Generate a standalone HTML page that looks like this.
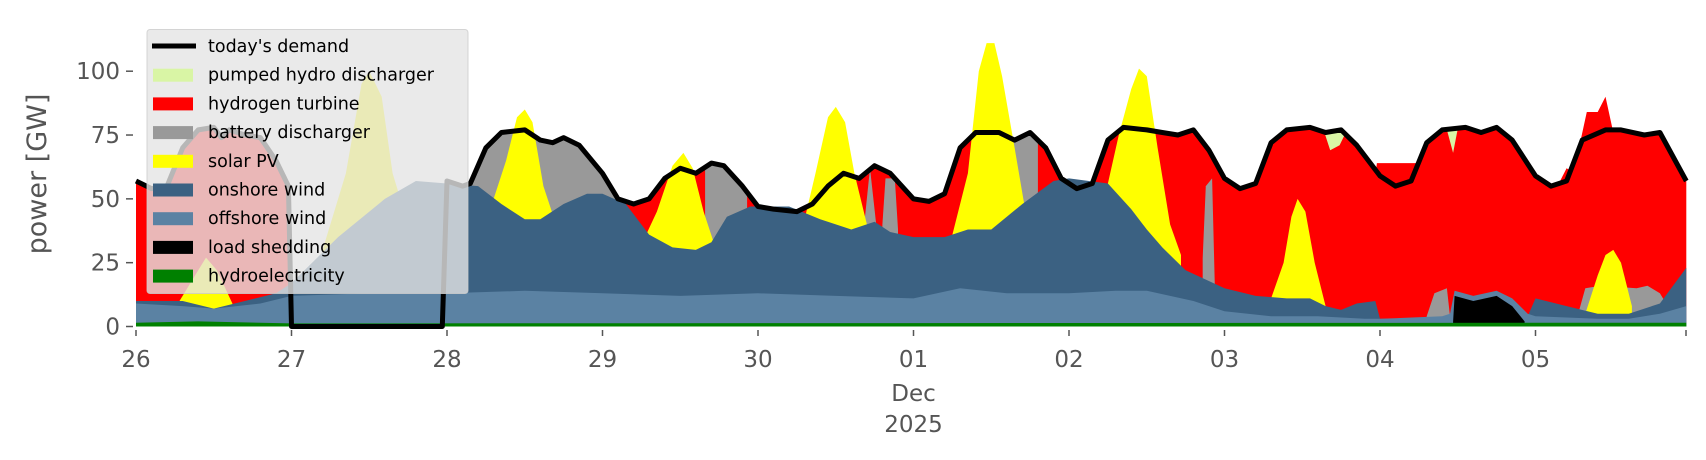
<!DOCTYPE html>
<html><head><meta charset="utf-8"><style>
html,body{margin:0;padding:0;background:#fff;width:1706px;height:460px;overflow:hidden}
svg{display:block}
text{font-family:"DejaVu Sans","Liberation Sans",sans-serif;fill:#555}
</style></head><body>
<svg id="s" width="1706" height="460" viewBox="0 0 1706 460" xmlns="http://www.w3.org/2000/svg"></svg>
<script>
const X=d=>136+155.5*d, Y=v=>326.5-2.553*v;
const dem=[[0,57],[0.1,54],[0.2,55],[0.3,70],[0.4,77],[0.5,78],[0.55,74],[0.6,77],[0.7,75],[0.8,74],[0.9,65],[0.98,55],[1.0,0],[1.97,0],[2.0,57],[2.1,55],[2.15,56],[2.25,70],[2.35,76],[2.5,77],[2.6,73],[2.68,72],[2.75,74],[2.85,71],[3.0,60],[3.1,50],[3.2,48],[3.3,50],[3.4,58],[3.5,62],[3.6,60],[3.7,64],[3.78,63],[3.9,55],[4.0,47],[4.1,46],[4.25,45],[4.35,48],[4.45,55],[4.55,60],[4.65,58],[4.75,63],[4.85,60],[5.0,50],[5.1,49],[5.2,52],[5.3,70],[5.4,76],[5.55,76],[5.65,73],[5.75,76],[5.85,70],[5.95,58],[6.05,54],[6.15,56],[6.25,73],[6.35,78],[6.5,77],[6.6,76],[6.7,75],[6.8,77],[6.9,69],[7.0,58],[7.1,54],[7.2,56],[7.3,72],[7.4,77],[7.55,78],[7.65,76],[7.75,77],[7.85,71],[8.0,59],[8.1,55],[8.2,57],[8.3,72],[8.4,77],[8.55,78],[8.65,76],[8.75,78],[8.85,73],[9.0,59],[9.1,55],[9.2,57],[9.3,73],[9.45,77],[9.55,77],[9.7,75],[9.8,76],[9.97,57]];
function f(arr,d){for(let i=0;i<arr.length-1;i++){const a=arr[i],b=arr[i+1];if(d>=a[0]&&d<=b[0]){return a[1]+(b[1]-a[1])*(d-a[0])/((b[0]-a[0])||1);}}return 0;}
function win(a,b){const p=[];for(let d=a;d<=b+1e-9;d+=0.01)p.push([d,f(dem,d)]);return p;}
let out='';
function poly(pts,col){let s=`M${X(pts[0][0]).toFixed(1)},${Y(0)}`;for(const p of pts)s+=`L${X(p[0]).toFixed(1)},${Y(p[1]).toFixed(1)}`;s+=`L${X(pts[pts.length-1][0]).toFixed(1)},${Y(0)}Z`;out+=`<path d="${s}" fill="${col}"/>`;}
function closed(pts,col){out+=`<path d="M${pts.map(p=>X(p[0]).toFixed(1)+','+Y(p[1]).toFixed(1)).join('L')}Z" fill="${col}"/>`;}
const R='#ff0000',G='#999999',YL='#ffff00',PH='#d9f5a5';
poly(win(0,0.99),R);poly(win(2.0,9.97),R);
poly([[7.97,59],[7.98,64],[8.25,64],[8.28,60]],R);
poly([[9.28,70],[9.33,84],[9.4,84],[9.45,90],[9.5,76]],R);
poly([[9.15,56],[9.2,62],[9.25,60]],R);
closed([[7.64,76.5],[7.7,77.5],[7.78,76],[7.74,71],[7.68,69]],PH);
closed([[8.43,77],[8.5,77.5],[8.47,68]],PH);
poly([[2.1,0]].concat(win(2.1,3.13)),G);
poly(win(3.66,3.93),G);
poly([[4.68,38],[4.72,62],[4.76,40]],G);
poly([[4.8,40],[4.82,58],[4.88,58],[4.9,38]],G);
poly(win(5.62,5.8),G);
poly([[6.86,27],[6.88,55],[6.92,58],[6.94,10]],G);
poly([[8.3,4],[8.35,13],[8.43,15],[8.45,4]],G);
poly([[9.27,4],[9.32,15],[9.42,16],[9.65,15],[9.72,16],[9.8,13],[9.85,8]],G);
[[[0.28,10],[0.38,20],[0.45,27],[0.52,22],[0.62,9]],
[[1.2,30],[1.35,60],[1.45,95],[1.5,100],[1.58,90],[1.65,60],[1.75,40]],
[[2.3,50],[2.38,65],[2.45,82],[2.5,85],[2.55,80],[2.62,55],[2.68,44]],
[[3.25,32],[3.35,45],[3.45,63],[3.52,68],[3.58,62],[3.65,45],[3.72,32]],
[[4.3,42],[4.37,60],[4.45,82],[4.5,86],[4.56,80],[4.62,60],[4.7,40]],
[[5.25,36],[5.35,60],[5.42,100],[5.47,111],[5.52,111],[5.57,98],[5.65,70],[5.72,45]],
[[6.25,56],[6.32,75],[6.4,93],[6.45,101],[6.5,98],[6.57,70],[6.65,40],[6.72,28]],
[[7.3,11],[7.38,25],[7.43,43],[7.47,50],[7.52,45],[7.58,25],[7.65,8]],
[[9.32,5],[9.4,20],[9.45,28],[9.5,30],[9.55,25],[9.62,8]]].forEach(p=>poly(p,YL));
poly([[0,10],[0.3,10],[0.5,7],[0.7,10],[0.9,13],[1.0,17],[1.3,35],[1.6,50],[1.8,57],[2.0,56],[2.2,55],[2.35,48],[2.5,42],[2.6,42],[2.75,48],[2.9,52],[3.0,52],[3.15,48],[3.3,36],[3.45,31],[3.6,30],[3.7,33],[3.8,43],[3.95,47],[4.2,47],[4.4,42],[4.5,40],[4.6,38],[4.75,41],[4.85,37],[5.0,35],[5.2,35],[5.35,38],[5.5,38],[5.7,48],[5.9,57],[6.0,58],[6.25,56],[6.4,46],[6.5,38],[6.6,31],[6.75,22],[7.0,15],[7.2,12],[7.4,11],[7.55,11],[7.65,8],[7.75,6.5],[7.85,9],[7.97,10],[8.0,3],[8.95,4],[9.0,11],[9.2,8],[9.4,5],[9.6,5],[9.8,9],[9.97,23]],'#3b6182');
poly([[0,9],[0.3,8],[0.5,7],[0.8,9],[1.0,12],[1.5,13],[2.0,13],[2.5,14],[3.0,13],[3.5,12],[4.0,13],[4.5,12],[5.0,11],[5.3,15],[5.6,13],[6.0,13],[6.3,14],[6.5,14],[6.8,10],[7.0,6],[7.3,4],[7.6,4],[7.9,3],[8.0,3],[8.4,4],[8.45,5],[8.48,14],[8.6,12],[8.75,14],[8.85,11],[8.95,5],[9.0,4],[9.4,3],[9.6,3],[9.8,5],[9.97,8]],'#5b82a3');
poly([[8.47,2],[8.48,12],[8.6,10],[8.75,12],[8.85,8],[8.93,2]],'#000');
poly([[0,1.5],[0.4,2],[1,1.2],[9.97,1.5]],'#008000');
out+=`<polyline fill="none" stroke="#000" stroke-width="5" stroke-linejoin="round" points="${dem.map(p=>X(p[0]).toFixed(1)+','+Y(p[1]).toFixed(1)).join(' ')}"/>`;
for(const v of [0,25,50,75,100]){out+=`<line x1="126" x2="133" y1="${Y(v)}" y2="${Y(v)}" stroke="#555" stroke-width="1.5"/><text x="120" y="${Y(v)+8}" font-size="23" text-anchor="end">${v}</text>`;}
const lab=['26','27','28','29','30','01','02','03','04','05'];
for(let i=0;i<=9;i++){out+=`<line x1="${X(i)}" x2="${X(i)}" y1="330" y2="336" stroke="#555" stroke-width="1.5"/><text x="${X(i)}" y="367" font-size="23" text-anchor="middle">${lab[i]}</text>`;}
out+=`<line x1="1686" x2="1686" y1="330" y2="336" stroke="#555" stroke-width="1.5"/>`;
out+=`<text x="${X(5)}" y="401" font-size="23" text-anchor="middle">Dec</text><text x="${X(5)}" y="432" font-size="23" text-anchor="middle">2025</text>`;
out+=`<text transform="translate(46,174) rotate(-90)" font-size="27" text-anchor="middle">power [GW]</text>`;
out+=`<rect x="147" y="29.5" width="321" height="264" rx="3" fill="#e5e5e5" fill-opacity="0.8" stroke="#cccccc" stroke-opacity="0.8"/>`;
const L=[["line","today's demand"],[PH,"pumped hydro discharger"],[R,"hydrogen turbine"],[G,"battery discharger"],[YL,"solar PV"],["#3b6182","onshore wind"],["#5b82a3","offshore wind"],["#000","load shedding"],["#008000","hydroelectricity"]];
L.forEach((l,i)=>{const y=46+i*28.7;if(l[0]=="line")out+=`<line x1="152" x2="196" y1="${y}" y2="${y}" stroke="#000" stroke-width="5"/>`;else out+=`<rect x="153" y="${y-6}" width="40" height="13" fill="${l[0]}"/>`;out+=`<text x="208" y="${y+6}" font-size="17.5" style="fill:#000">${l[1]}</text>`;});
document.getElementById('s').innerHTML=out;
</script>
</body></html>
